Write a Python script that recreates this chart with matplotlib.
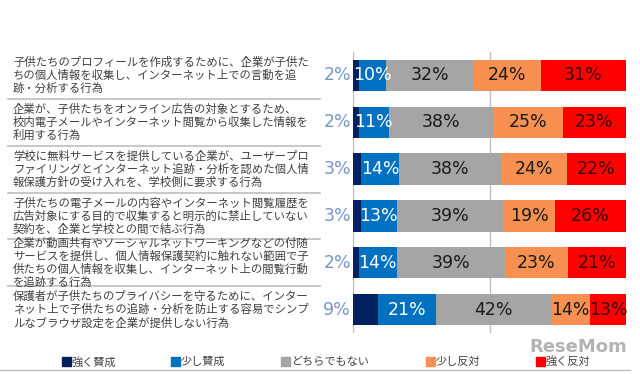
import matplotlib
matplotlib.use("Agg")
import matplotlib.pyplot as plt
import matplotlib.transforms as mtransforms
from matplotlib.patches import Rectangle
import numpy as np

plt.rcParams['font.family'] = ['Noto Sans CJK JP', 'DejaVu Sans']

categories = [
    "子供たちのプロフィールを作成するために、企業が子供た\nちの個人情報を収集し、インターネット上での言動を追\n跡・分析する行為",
    "企業が、子供たちをオンライン広告の対象とするため、\n校内電子メールやインターネット閲覧から収集した情報を\n利用する行為",
    "学校に無料サービスを提供している企業が、ユーザープロ\nファイリングとインターネット追跡・分析を認めた個人情\n報保護方針の受け入れを、学校側に要求する行為",
    "子供たちの電子メールの内容やインターネット閲覧履歴を\n広告対象にする目的で収集すると明示的に禁止していない\n契約を、企業と学校との間で結ぶ行為",
    "企業が動画共有やソーシャルネットワーキングなどの付随\nサービスを提供し、個人情報保護契約に触れない範囲で子\n供たちの個人情報を収集し、インターネット上の閲覧行動\nを追跡する行為",
    "保護者が子供たちのプライバシーを守るために、インター\nネット上で子供たちの追跡・分析を防止する容易でシンプ\nルなブラウザ設定を企業が提供しない行為",
]
series_names = ["強く賛成", "少し賛成", "どちらでもない", "少し反対", "強く反対"]
strongly_agree = [2, 2, 3, 3, 2, 9]
somewhat_agree = [10, 11, 14, 13, 14, 21]
neutral = [32, 38, 38, 39, 39, 42]
somewhat_oppose = [24, 25, 24, 19, 23, 14]
strongly_oppose = [31, 23, 22, 26, 21, 13]

series = [strongly_agree, somewhat_agree, neutral, somewhat_oppose, strongly_oppose]
colors = ["#002060", "#0070C0", "#A5A5A5", "#F79050", "#FF0000"]
text_colors = [None, "white", "#1a1a1a", "#1a1a1a", "#3a0000"]

W, H = 640, 374
fig = plt.figure(figsize=(W / 100, H / 100), dpi=100)
fig.patch.set_facecolor("white")

ax_l, ax_r, ax_t, ax_b = 353, 626, 52, 333
ax = fig.add_axes([ax_l / W, 1 - ax_b / H, (ax_r - ax_l) / W, (ax_b - ax_t) / H])

n = len(categories)
y = np.arange(n)
raw = np.array(series, dtype=float)          # shape (5, n)
shares = raw / raw.sum(axis=0) * 100          # each row scaled to 100%
left = np.zeros(n)
for k, c in enumerate(colors):
    vals = shares[k]
    ax.barh(y, vals, left=left, height=0.67, color=c, zorder=2)
    for i in range(n):
        label = f"{int(raw[k, i])}%"
        if k == 0:
            ax.text(-0.7, y[i], label, ha="right", va="center",
                    fontsize=12.5, color="#7896C8", family="DejaVu Sans", clip_on=False)
        else:
            ax.text(left[i] + vals[i] / 2, y[i], label, ha="center", va="center",
                    fontsize=12.5, color=text_colors[k], family="DejaVu Sans", zorder=3)
    left = left + vals

ax.set_xlim(0, 100)
ax.set_ylim(n - 0.5, -0.5)
for xv in [0, 50, 100]:
    ax.axvline(xv, color="#BFBFBF", lw=1, zorder=1)
ax.set_xticks([])
ax.set_yticks([])
for s in ax.spines.values():
    s.set_visible(False)

# category labels and separators
trans = mtransforms.blended_transform_factory(fig.transFigure, ax.transData)
for i, cat in enumerate(categories):
    ax.text(13 / W, y[i], cat, transform=trans, ha="left", va="center",
            fontsize=8.2, color="#404040", linespacing=1.22, clip_on=False)
for i in range(n - 1):
    ax.plot([8 / W, 320 / W], [i + 0.5, i + 0.5], transform=trans, color="#BFBFBF",
            lw=1.2, clip_on=False)

# legend
leg_x = [66, 175, 285, 430, 540]
leg_y = 362
for name, c, lx in zip(series_names, colors, leg_x):
    fig.patches.append(Rectangle(((lx - 4) / W, 1 - (leg_y + 4) / H), 9 / W, 9 / H,
                                 transform=fig.transFigure, color=c))
    fig.text((lx + 6) / W, 1 - leg_y / H, name, ha="left", va="center",
             fontsize=8, color="#404040")
fig.add_artist(plt.Line2D([0, 630 / W], [1 - 370 / H, 1 - 370 / H],
                          transform=fig.transFigure, color="#BFBFBF", lw=1))

# watermark
fig.text(578 / W, 1 - 347 / H, "ReseMom", ha="center", va="center", fontsize=13,
         fontweight="bold", color="#9a9a9a", alpha=0.75, family="DejaVu Sans")

fig.savefig("out.png", dpi=100, facecolor="white")
